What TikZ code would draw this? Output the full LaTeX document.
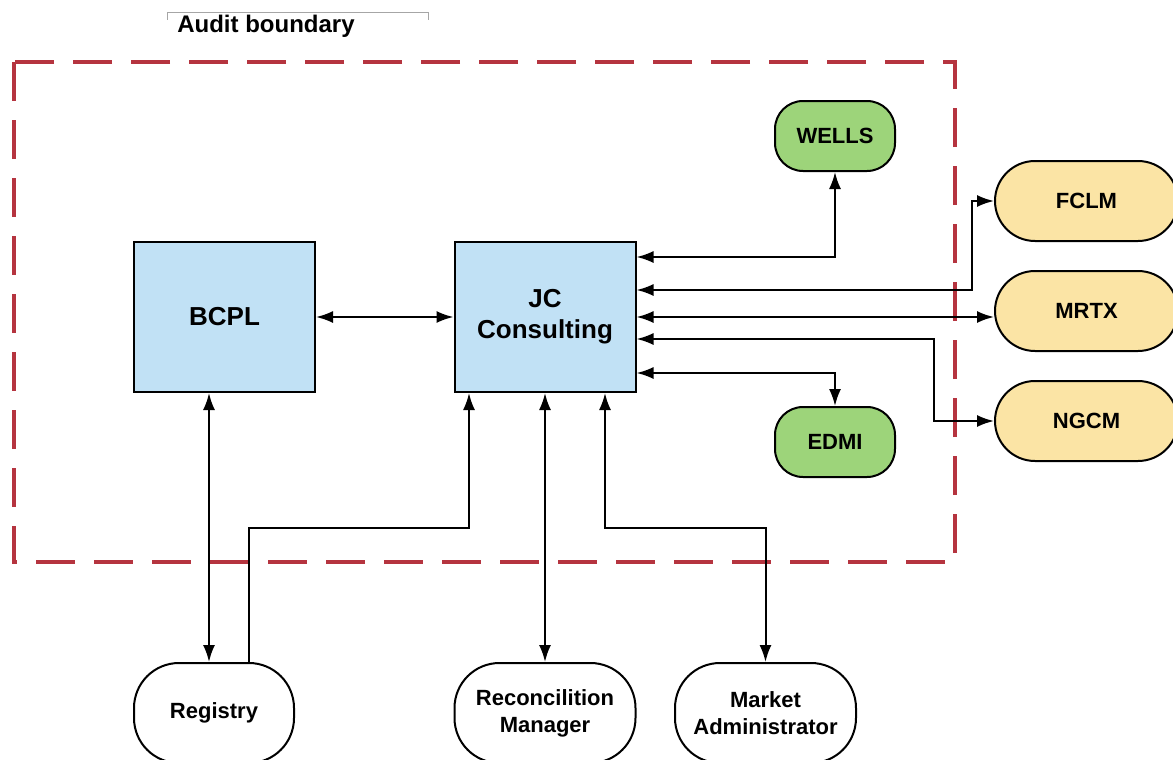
\documentclass[tikz,border=0pt]{standalone}
\usepackage{fontspec}
\setmainfont{Liberation Sans}
\usepackage{tikz}
\usetikzlibrary{arrows.meta}

\definecolor{boxblue}{RGB}{193,225,245}
\definecolor{boxgreen}{RGB}{157,212,122}
\definecolor{boxyellow}{RGB}{251,228,165}
\definecolor{auditred}{RGB}{181,52,63}

\begin{document}
\begin{tikzpicture}[x=1pt, y=-1pt, line width=2pt,
	every node/.style={font=\bfseries\fontsize{22}{27}\selectfont, align=center, line width=2pt},
	>={Latex[length=17pt, width=12pt]},
	party/.style={draw, fill=boxblue, minimum width=181pt, minimum height=150pt, font=\bfseries\fontsize{26}{31}\selectfont},
	inner/.style={draw, fill=boxgreen, rounded corners=28pt, minimum width=120pt, minimum height=70pt},
	outer/.style={draw, fill=boxyellow, rounded corners=40pt, minimum width=183pt, minimum height=80pt},
	actor/.style={draw, fill=white, rounded corners=45pt, minimum height=100pt}]
	\useasboundingbox (0,0) rectangle (1173,760);
	% audit boundary
	\node[anchor=west, font=\bfseries\fontsize{24}{28}\selectfont] (audit) at (173,26) {Audit boundary};
	\draw[gray!70, line width=1pt] (167,20) -- (167,13) -- (428,13) -- (428,20);
	\draw[auditred, line width=4pt, dash pattern=on 39pt off 19pt] (14,62) rectangle (955,562);
	% main boxes
	\node[party] (bcpl) at (224.5,317) {BCPL};
	\node[party] (jc) at (545,317) {JC\\Consulting};
	\node[inner] (wells) at (835,136) {WELLS};
	\node[inner] (edmi) at (835,442) {EDMI};
	\node[outer] (fclm) at (1086.5,201) {FCLM};
	\node[outer] (mrtx) at (1086.5,311) {MRTX};
	\node[outer] (ngcm) at (1086.5,421) {NGCM};
	\node[actor, minimum width=160pt] (registry) at (214,713) {Registry};
	\node[actor, minimum width=181pt] (recon) at (545,713) {Reconcilition\\Manager};
	\node[actor, minimum width=181pt] (market) at (765.5,713) {Market\\Administrator};
	% connectors
	\draw[<->] (bcpl) -- (jc);
	\draw[<->] ([yshift=60pt]jc.east) -| (wells.south);
	\draw[<->] ([yshift=27pt]jc.east) -| ([xshift=-22pt]fclm.west) -- (fclm.west);
	\draw[<->] (jc.east) -- (jc.east -| mrtx.west);
	\draw[<->] ([yshift=-22pt]jc.east) -| ([xshift=-60pt]ngcm.west) -- (ngcm.west);
	\draw[<->] ([yshift=-56pt]jc.east) -| (edmi.north);
	\draw[<->] ([xshift=-15.5pt]bcpl.south) -- ([xshift=-15.5pt]bcpl.south |- registry.north);
	\draw[->] ([xshift=35pt]registry.north) |- ([xshift=-76pt, yshift=-135pt]jc.south) -- ([xshift=-76pt]jc.south);
	\draw[<->] (jc.south) -- (recon.north);
	\draw[<->] (market.north) |- ([xshift=60pt, yshift=-135pt]jc.south) -- ([xshift=60pt]jc.south);
\end{tikzpicture}
\end{document}
